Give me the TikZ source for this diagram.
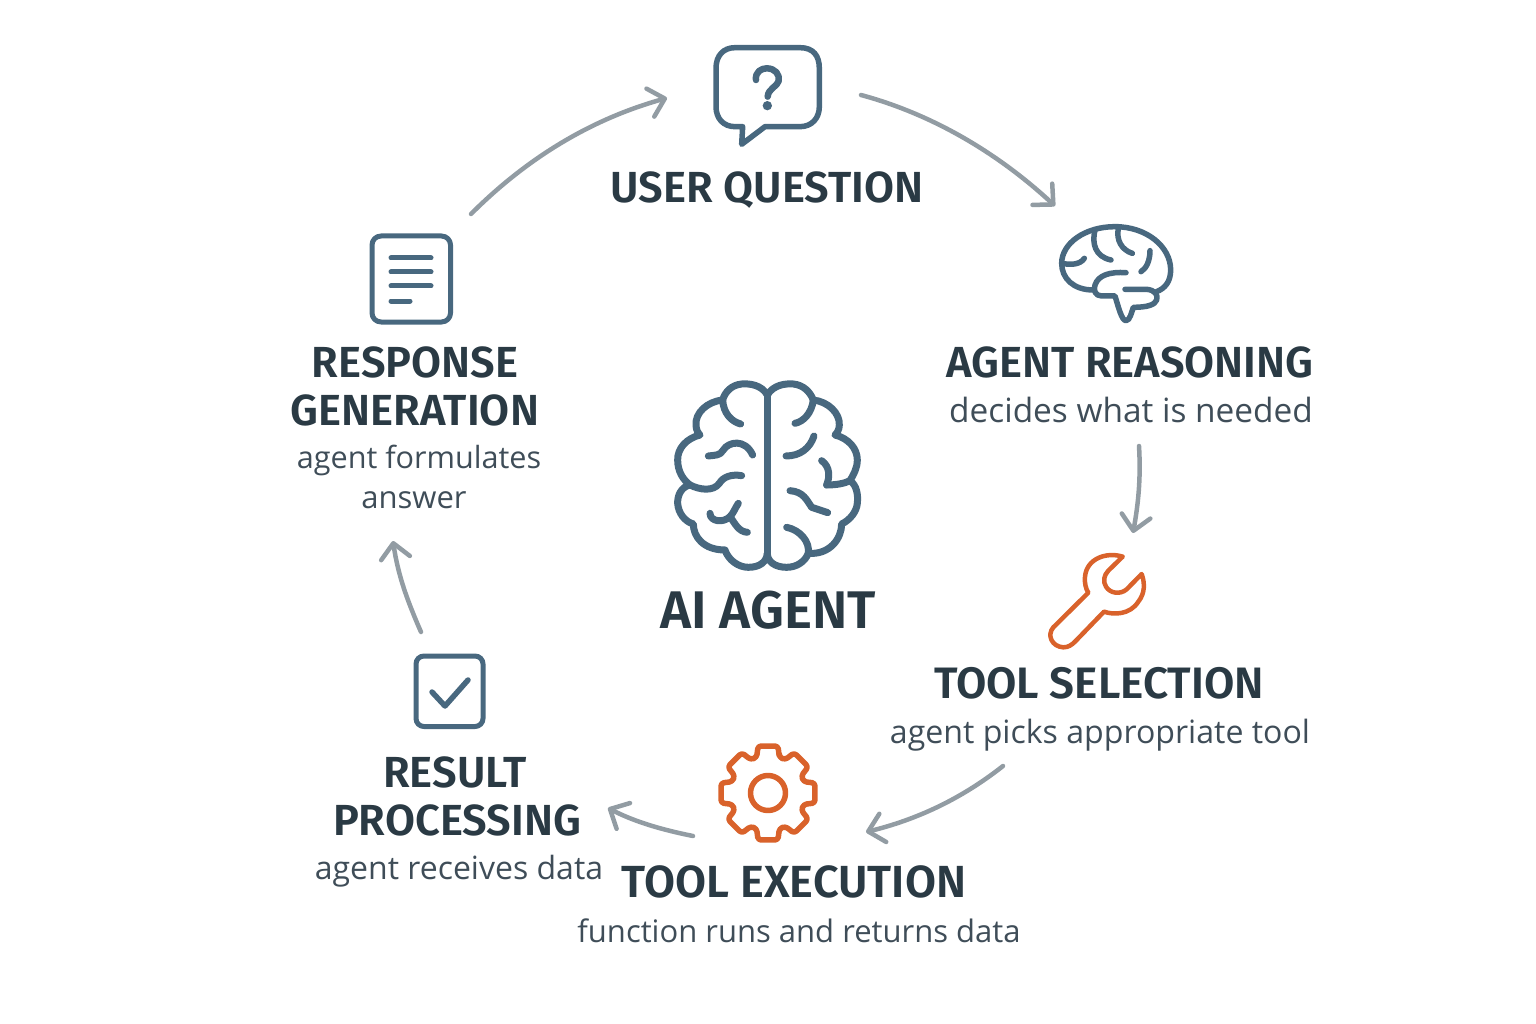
\documentclass[tikz,border=0pt]{standalone}
\usepackage{fontspec}
\setmainfont{Open Sans}
\newfontfamily\headfont{Fira Sans SemiBold}
\usetikzlibrary{arrows.meta}
\definecolor{iconblue}{HTML}{48687F}
\definecolor{headtext}{HTML}{2A3A44}
\definecolor{subtext}{HTML}{3F4D58}
\definecolor{arrowgrey}{HTML}{929CA3}
\definecolor{iconorange}{HTML}{D9622B}
\tikzset{
  head/.style={anchor=base,text=headtext,font=\fontsize{#1}{#1}\headfont\selectfont,inner sep=0pt},
  head/.default=43.5,
  bighead/.style={anchor=base,text=headtext,font=\fontsize{53}{53}\headfont\selectfont,inner sep=0pt},
  sub/.style={anchor=base,text=subtext,font=\fontsize{#1}{#1}\selectfont,inner sep=0pt},
  sub/.default=31,
  flow/.style={draw=arrowgrey,line width=4.5pt,line cap=round,-{Straight Barb[length=15pt,width=29pt,line width=4.5pt,round]}},
  blueline/.style={draw=iconblue,line cap=round,line join=round},
  orangeline/.style={draw=iconorange,line cap=round,line join=round},
}
\begin{document}
\begin{tikzpicture}[x=1pt,y=-1pt]
\useasboundingbox (0,0) rectangle (1536,1024);
% bubble
\begin{scope}[shift={(700,35)},x=0.3333pt,y=-0.3333pt]
\draw[blueline,line width=5.5pt] (105,38) -- (300,38) .. controls (340,38) and (358,62) .. (358,100) -- (358,215) .. controls (358,250) and (335,275) .. (300,275) -- (195,275) -- (125,328) -- (128,275) -- (105,275) .. controls (70,275) and (48,250) .. (48,215) -- (48,100) .. controls (48,62) and (70,38) .. (105,38) -- cycle;
\draw[blueline,line width=6.5pt] (168,135) .. controls (165,110) and (185,100) .. (200,100) .. controls (225,100) and (240,118) .. (236,138) .. controls (232,155) and (205,160) .. (203,185);
\fill[iconblue] (202,212) circle (14);
\end{scope}
% small brain
\begin{scope}[shift={(1040,210)},x=0.3333pt,y=-0.3333pt]
\draw[blueline,line width=5.5pt] (160,240) .. controls (100,240) and (65,205) .. (65,160) .. controls (65,100) and (135,50) .. (225,50) .. controls (320,50) and (392,110) .. (392,180) .. controls (392,215) and (375,235) .. (350,245);
\draw[blueline,line width=5.5pt] (255,238) -- (320,238) .. controls (345,240) and (355,255) .. (350,270) .. controls (345,285) and (320,292) .. (280,292) .. controls (275,305) and (270,332) .. (258,332) .. controls (245,332) and (235,290) .. (225,258) -- (185,258) .. controls (165,258) and (160,240) .. (165,225) .. controls (175,195) and (210,185) .. (258,188);
\draw[blueline,line width=5.5pt] (165,60) .. controls (155,100) and (165,140) .. (213,150);
\draw[blueline,line width=5.5pt] (235,55) .. controls (228,90) and (245,120) .. (277,130);
\draw[blueline,line width=5.5pt] (65,160) .. controls (90,165) and (120,165) .. (133,145);
\draw[blueline,line width=5.5pt] (330,122) .. controls (330,150) and (320,175) .. (303,185);
\end{scope}
% wrench
\begin{scope}[shift={(1030,540)},x=0.3333pt,y=-0.3333pt]
\draw[orangeline,line width=4.5pt] (278,50) .. controls (230,35) and (170,55) .. (165,110) .. controls (163,130) and (168,148) .. (175,158) -- (70,262) .. controls (50,285) and (65,320) .. (100,322) .. controls (115,322) and (125,315) .. (135,305) -- (222,215) .. controls (250,225) and (300,225) .. (325,185) .. controls (345,160) and (345,130) .. (335,102) -- (290,148) .. controls (270,165) and (240,160) .. (228,140) .. controls (218,125) and (222,105) .. (235,92) -- cycle;
\end{scope}
% gear
\begin{scope}[shift={(768,793)}]
\draw[orangeline,line width=5.5pt,rounded corners=3pt]
 (-90+17.6:37.5)
 \foreach \a in {-45,0,45,90,135,180,225,270} { -- (\a-17.6:37.5) -- (\a-12:48) -- (\a+12:48) -- (\a+17.6:37.5) } -- cycle;
\draw[orangeline,line width=5.5pt] (0,0) circle (17.5);
\end{scope}
% doc
\draw[blueline,line width=5pt,rounded corners=9pt] (372,236) rectangle (450.5,322);
\draw[blueline,line width=5pt] (391,258) -- (431,258) (391,272) -- (431,272) (391,286) -- (431,286) (391,301) -- (410,301);
% check
\draw[blueline,line width=5pt,rounded corners=8pt] (416,656) rectangle (483,726.5);
\draw[blueline,line width=5.5pt] (432,692) -- (445,706) -- (468,680);
% centre brain
\begin{scope}[shift={(660,370)},x=0.3333pt,y=-0.3333pt]
\begin{scope}[line width=7pt]
\draw[blueline] (322,75) .. controls (305,45) and (270,40) .. (245,42) .. controls (215,45) and (195,65) .. (188,90) .. controls (140,95) and (105,130) .. (108,165) .. controls (108,180) and (115,190) .. (120,195) .. controls (80,205) and (52,235) .. (53,270) .. controls (53,305) and (70,330) .. (90,345) .. controls (65,350) and (52,375) .. (53,400) .. controls (55,430) and (75,455) .. (100,462) .. controls (100,500) and (130,540) .. (195,540) .. controls (205,570) and (235,592) .. (265,592) .. controls (300,592) and (320,575) .. (322,550);
\draw[blueline] (322,75) .. controls (340,45) and (375,40) .. (400,42) .. controls (430,45) and (450,65) .. (460,90) .. controls (505,95) and (540,130) .. (538,165) .. controls (538,180) and (530,190) .. (525,195) .. controls (565,205) and (592,235) .. (592,270) .. controls (592,295) and (580,315) .. (570,332) .. controls (590,345) and (595,375) .. (592,400) .. controls (590,425) and (570,450) .. (545,462) .. controls (545,505) and (510,555) .. (445,550) .. controls (435,575) and (410,592) .. (380,592) .. controls (345,592) and (322,575) .. (322,550);
\draw[blueline] (322,70) -- (322,560);
\draw[blueline] (188,90) .. controls (190,130) and (215,155) .. (242,162);
\draw[blueline] (145,258) .. controls (165,255) and (180,258) .. (190,240) .. controls (205,215) and (255,205) .. (278,255);
\draw[blueline] (245,317) .. controls (215,312) and (190,320) .. (178,340) .. controls (160,365) and (120,360) .. (90,345);
\draw[blueline] (150,430) .. controls (150,455) and (190,460) .. (210,440) .. controls (220,430) and (225,415) .. (235,400);
\draw[blueline] (210,440) .. controls (225,460) and (235,485) .. (262,487);
\draw[blueline] (460,90) .. controls (455,130) and (430,155) .. (405,160);
\draw[blueline] (462,198) .. controls (450,235) and (420,258) .. (378,258);
\draw[blueline] (485,272) .. controls (510,290) and (510,320) .. (500,345);
\draw[blueline] (500,345) .. controls (530,345) and (555,340) .. (570,332);
\draw[blueline] (390,362) .. controls (430,365) and (440,390) .. (455,412) -- (503,428);
\draw[blueline] (380,472) .. controls (420,480) and (450,515) .. (445,550);
\end{scope}
\end{scope}
% text
\node[head] (q) at (767,203) {USER QUESTION};
\node[head] (r) at (1130,377) {AGENT REASONING};
\node[sub=33.4] (rs) at (1131,422) {decides what is needed};
\node[head=44] (s) at (1099,698) {TOOL SELECTION};
\node[sub=32.1] (ss) at (1100,743) {agent picks appropriate tool};
\node[head=45] (e) at (794,897) {TOOL EXECUTION};
\node[sub] (es) at (799,942) {function runs and returns data};
\node[head] (p1) at (455,787) {RESULT};
\node[head] (p2) at (457,835) {PROCESSING};
\node[sub=32] (ps) at (459,879) {agent receives data};
\node[head] (g1) at (415,377) {RESPONSE};
\node[head] (g2) at (415,425) {GENERATION};
\node[sub=30.6] (gs1) at (419,468) {agent formulates};
\node[sub] (gs2) at (414,508) {answer};
\node[bighead] (ai) at (768,628) {AI AGENT};
% connectors
\coordinate (a1s) at (471,214); \coordinate (a1e) at (667,98);
\coordinate (a2s) at (861,95); \coordinate (a2e) at (1055,206);
\coordinate (a3s) at (1139,446); \coordinate (a3e) at (1133,533);
\coordinate (a4s) at (1003,766); \coordinate (a4e) at (866,832);
\coordinate (a5s) at (693,836); \coordinate (a5e) at (608,808);
\coordinate (a6s) at (421,632); \coordinate (a6e) at (393,541);
\draw[flow] (a1s) .. controls (530,155) and (595,118) .. (a1e);
\draw[flow] (a2s) .. controls (935,115) and (1000,155) .. (a2e);
\draw[flow] (a3s) .. controls (1141,480) and (1138,505) .. (a3e);
\draw[flow] (a4s) .. controls (960,800) and (915,820) .. (a4e);
\draw[flow] (a5s) .. controls (663,830) and (635,822) .. (a5e);
\draw[flow] (a6s) .. controls (407,600) and (398,575) .. (a6e);
\end{tikzpicture}
\end{document}
